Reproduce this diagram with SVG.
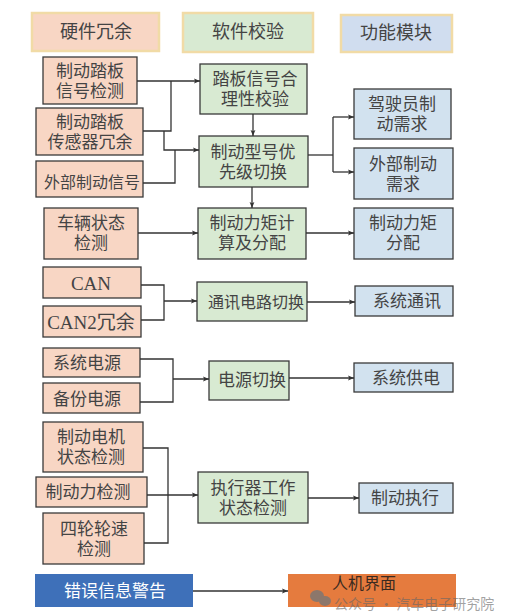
<svg xmlns="http://www.w3.org/2000/svg" width="521" height="613" viewBox="0 0 521 613">
<defs>
<marker id="ah" viewBox="0 0 10 10" refX="10" refY="5" markerWidth="6" markerHeight="6" orient="auto" markerUnits="userSpaceOnUse">
<path d="M0,1 L10,5 L0,9 L2,5 z" fill="#333"/>
</marker>
<style>
text{font-family:"Liberation Serif","Noto Sans CJK SC",serif;font-size:17px;fill:#444;text-anchor:middle;dominant-baseline:central}
.hw{fill:#f8d6c4;stroke:#3a3a3a;stroke-width:1.3}
.sw{fill:#d8ead2;stroke:#3a3a3a;stroke-width:1.3}
.fn{fill:#d2e2ef;stroke:#3a3a3a;stroke-width:1.3}
.hd{stroke:#f1dba6;stroke-width:2.5}
.s16{font-size:16px}
.hdt{font-size:18px}
.lat{font-size:19px}
#connectors path{fill:none;stroke:#333;stroke-width:1.3}
.wm{fill:#666;fill-opacity:0.75;font-size:14px;text-anchor:start;font-family:"Noto Sans CJK SC",sans-serif}
</style>
</defs>
<rect width="521" height="613" fill="#fff"/>

<g id="hdr-hw"><rect class="hd" x="32" y="13" width="127" height="38" fill="#f8d6c4"/><text class="hdt" x="96" y="32">硬件冗余</text></g>
<g id="hdr-sw"><rect class="hd" x="183" y="13" width="130" height="39" fill="#d8ead2"/><text class="hdt" x="248" y="32">软件校验</text></g>
<g id="hdr-fn"><rect class="hd" x="341" y="15" width="111" height="37" fill="#d0ddef"/><text class="hdt" x="396" y="33">功能模块</text></g>

<g id="n1"><rect class="hw" x="43" y="57" width="94" height="47"/><text x="90" y="71">制动踏板</text><text x="90" y="91">信号检测</text></g>
<g id="n2"><rect class="hw" x="36" y="108" width="107" height="47"/><text x="90" y="122">制动踏板</text><text x="90" y="142">传感器冗余</text></g>
<g id="n3"><rect class="hw" x="36" y="161" width="107" height="36"/><text class="s16" x="92" y="182">外部制动信号</text></g>
<g id="n4"><rect class="hw" x="44" y="208" width="94" height="51"/><text x="91" y="223">车辆状态</text><text x="91" y="243">检测</text></g>
<g id="n5"><rect class="hw" x="43" y="267" width="98" height="31"/><text class="lat" x="91" y="283">CAN</text></g>
<g id="n6"><rect class="hw" x="43" y="306" width="98" height="31"/><text class="lat" x="91" y="322">CAN2冗余</text></g>
<g id="n7"><rect class="hw" x="43" y="348" width="97" height="29"/><text x="87" y="363">系统电源</text></g>
<g id="n8"><rect class="hw" x="43" y="383" width="97" height="30"/><text x="87" y="399">备份电源</text></g>
<g id="n9"><rect class="hw" x="43" y="422" width="100" height="50"/><text x="91" y="437">制动电机</text><text x="91" y="457">状态检测</text></g>
<g id="n10"><rect class="hw" x="36" y="477" width="111" height="30"/><text x="88" y="492">制动力检测</text></g>
<g id="n11"><rect class="hw" x="43" y="513" width="101" height="51"/><text x="94" y="529">四轮轮速</text><text x="94" y="549">检测</text></g>

<g id="s1"><rect class="sw" x="200" y="64" width="107" height="50"/><text x="255" y="79">踏板信号合</text><text x="255" y="99">理性校验</text></g>
<g id="s2"><rect class="sw" x="199" y="136" width="109" height="51"/><text x="253" y="152">制动型号优</text><text x="253" y="172">先级切换</text></g>
<g id="s3"><rect class="sw" x="198" y="208" width="108" height="51"/><text x="252" y="223">制动力矩计</text><text x="252" y="243">算及分配</text></g>
<g id="s4"><rect class="sw" x="197" y="282" width="110" height="39"/><text class="s16" x="256" y="302">通讯电路切换</text></g>
<g id="s5"><rect class="sw" x="209" y="361" width="80" height="39"/><text x="252" y="380">电源切换</text></g>
<g id="s6"><rect class="sw" x="198" y="472" width="110" height="51"/><text x="253" y="488">执行器工作</text><text x="253" y="508">状态检测</text></g>

<g id="f1"><rect class="fn" x="354" y="89" width="97" height="50"/><text x="402" y="104">驾驶员制</text><text x="402" y="124">动需求</text></g>
<g id="f2"><rect class="fn" x="354" y="148" width="99" height="51"/><text x="403" y="164">外部制动</text><text x="403" y="184">需求</text></g>
<g id="f3"><rect class="fn" x="354" y="208" width="99" height="51"/><text x="403" y="223">制动力矩</text><text x="403" y="243">分配</text></g>
<g id="f4"><rect class="fn" x="355" y="286" width="98" height="30"/><text x="407" y="301">系统通讯</text></g>
<g id="f5"><rect class="fn" x="354" y="363" width="99" height="29"/><text x="406" y="378">系统供电</text></g>
<g id="f6"><rect class="fn" x="359" y="483" width="94" height="30"/><text x="405" y="498">制动执行</text></g>

<g id="err"><rect x="35" y="574" width="158" height="33" fill="#3e70b9"/><text x="115" y="591" style="fill:#fff">错误信息警告</text></g>
<g id="hmi"><rect x="288" y="574" width="168" height="33" fill="#e57b3e"/><text x="364" y="583" style="fill:#3a2a20;font-size:16px">人机界面</text></g>

<g id="connectors">
<path d="M137,81 H200" marker-end="url(#ah)"/>
<path d="M143,131 H171 V81"/>
<path d="M164,131 V150 H199" marker-end="url(#ah)"/>
<path d="M143,183 H175 V150"/>
<path d="M253,114 V136" marker-end="url(#ah)"/>
<path d="M308,155 H333"/>
<path d="M333,117 V172"/>
<path d="M333,117 H354" marker-end="url(#ah)"/>
<path d="M333,172 H354" marker-end="url(#ah)"/>
<path d="M252,187 V208" marker-end="url(#ah)"/>
<path d="M138,233 H198" marker-end="url(#ah)"/>
<path d="M306,233 H354" marker-end="url(#ah)"/>
<path d="M141,285 H164 V320 H141"/>
<path d="M164,301 H197" marker-end="url(#ah)"/>
<path d="M307,302 H355" marker-end="url(#ah)"/>
<path d="M140,359 H173 V402 H140"/>
<path d="M173,379 H209" marker-end="url(#ah)"/>
<path d="M289,378 H354" marker-end="url(#ah)"/>
<path d="M143,448 H168 V543 H144"/>
<path d="M147,495 H198" marker-end="url(#ah)"/>
<path d="M308,498 H359" marker-end="url(#ah)"/>
<path d="M193,591 H288" marker-end="url(#ah)"/>
</g>

<g id="watermark" opacity="0.8">
<ellipse cx="317" cy="596" rx="7" ry="6" fill="#777"/>
<ellipse cx="325" cy="601" rx="6" ry="5" fill="#777"/>
<text class="wm" x="334" y="603">公众号 · 汽车电子研究院</text>
</g>
</svg>
